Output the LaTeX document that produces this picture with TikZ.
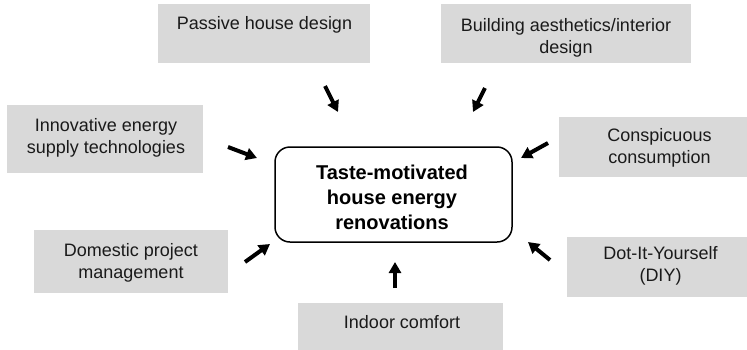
\documentclass[tikz,border=0pt]{standalone}
\usepackage{fontspec}
\setmainfont{Liberation Sans}
\usetikzlibrary{arrows.meta}
\definecolor{boxgray}{HTML}{D9D9D9}
\definecolor{txt}{HTML}{1A1A1A}
\begin{document}
\begin{tikzpicture}[x=1pt,y=-1pt,
  box/.style={fill=boxgray, draw=none, inner sep=0pt},
  lbl/.style={inner sep=0pt, align=center, text=txt, font=\fontsize{18}{22}\selectfont},
  core/.style={draw=black, line width=1.5pt, rounded corners=15pt, fill=white, inner sep=0pt},
  corelbl/.style={inner sep=0pt, align=center, text=black, font=\bfseries\fontsize{20}{25}\selectfont},
  push/.style={line width=4pt, -{Triangle[length=11pt,width=12pt]}}
]
\useasboundingbox (0,0) rectangle (747,349);

% boxes
\node[box, minimum width=212pt, minimum height=59pt] (passivebox) at (264,33.5) {};
\node[lbl] (passive) at (264.5,24.8) {Passive house design};

\node[box, minimum width=250pt, minimum height=59pt] (buildingbox) at (566,33.5) {};
\node[lbl] (building) at (566,37.8) {Building aesthetics/interior\\design};

\node[box, minimum width=196pt, minimum height=68pt] (innovbox) at (105,139) {};
\node[lbl] (innov) at (106,137.8) {Innovative energy\\supply technologies};

\node[box, minimum width=201pt, minimum height=60pt] (conspbox) at (659.5,147) {};
\node[lbl] (consp) at (659.5,147.8) {Conspicuous\\consumption};

\node[box, minimum width=194pt, minimum height=63pt] (domesticbox) at (131,261.5) {};
\node[lbl] (domestic) at (131,262.8) {Domestic project\\management};

\node[box, minimum width=193pt, minimum height=60pt] (diybox) at (663.5,266.5) {};
\node[lbl] (diy) at (660.5,265.8) {Dot-It-Yourself\\(DIY)};

\node[box, minimum width=205pt, minimum height=52pt] (indoorbox) at (400.5,329) {};
\node[lbl] (indoor) at (402,322) {Indoor comfort};

% central box
\node[core, minimum width=237pt, minimum height=95pt] (corebox) at (393.5,194.5) {};
\node[corelbl] (core) at (392,197.8) {Taste-motivated\\house energy\\renovations};

% arrows
\coordinate (a1s) at (325,86);  \coordinate (a1e) at (338,112);
\coordinate (a2s) at (485,88);  \coordinate (a2e) at (473,112);
\coordinate (a3s) at (228,147); \coordinate (a3e) at (257,158);
\coordinate (a4s) at (548,143); \coordinate (a4e) at (521,158);
\coordinate (a5s) at (245,262); \coordinate (a5e) at (270,244);
\coordinate (a6s) at (550,260); \coordinate (a6e) at (528,242);
\coordinate (a7s) at (395,288); \coordinate (a7e) at (395,262);
\draw[push] (a1s) -- (a1e);
\draw[push] (a2s) -- (a2e);
\draw[push] (a3s) -- (a3e);
\draw[push] (a4s) -- (a4e);
\draw[push] (a5s) -- (a5e);
\draw[push] (a6s) -- (a6e);
\draw[push] (a7s) -- (a7e);
\end{tikzpicture}
\end{document}
